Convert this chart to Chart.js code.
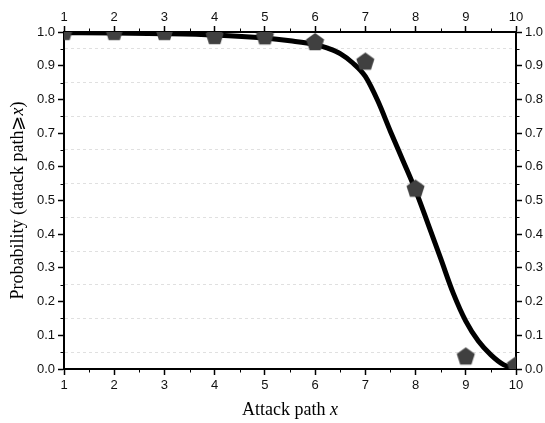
<!DOCTYPE html>
<html lang="en">
<head>
<meta charset="UTF-8">
<title>Attack path probability</title>
<script src="https://cdn.jsdelivr.net/npm/chart.js@4.4.0/dist/chart.umd.min.js"></script>
</head>
<body style="margin:0; background:#fff;">
<div style="position:relative; width:545px; height:423px;">
  <canvas id="pathChart"></canvas>
</div>
<script>
// observed probability that an attack path reaches length >= x
const pathLengths = [1, 2, 3, 4, 5, 6, 7, 8, 9, 10];
const observedProb = [0.999, 0.999, 0.999, 0.987, 0.986, 0.969, 0.911, 0.534, 0.036, 0.010];

// fitted curve, sampled
const fitX = [1, 2, 3, 4, 5, 5.5, 6, 6.25, 6.5, 6.75, 7, 7.25, 7.5, 7.75, 8, 8.25, 8.5, 8.75, 9, 9.25, 9.5, 9.75, 10];
const fitY = [0.998, 0.997, 0.995, 0.991, 0.982, 0.974, 0.963, 0.952, 0.936, 0.908, 0.868, 0.795, 0.705, 0.618, 0.530, 0.430, 0.328, 0.225, 0.142, 0.083, 0.042, 0.013, 0.0];

const xTickLabels = ['1', '2', '3', '4', '5', '6', '7', '8', '9', '10'];
const yTickLabels = ['0.0', '0.1', '0.2', '0.3', '0.4', '0.5', '0.6', '0.7', '0.8', '0.9', '1.0'];

// pentagon marker
function pentagon(r, color) {
    const c = document.createElement('canvas');
    const s = Math.ceil(r * 2) + 2;
    c.width = s; c.height = s;
    const g = c.getContext('2d');
    g.fillStyle = color;
    g.beginPath();
    for (let i = 0; i < 5; i++) {
        const a = -Math.PI / 2 + i * 2 * Math.PI / 5;
        const px = s / 2 + r * Math.cos(a), py = s / 2 + r * Math.sin(a);
        if (i === 0) g.moveTo(px, py); else g.lineTo(px, py);
    }
    g.closePath();
    g.fill();
    return c;
}

const tickFont = { family: "'Liberation Sans', Arial, sans-serif", size: 13 };
const isMajorY = v => Math.round(v * 20) % 2 === 0;
const isMajorX = v => Math.round(v * 2) % 2 === 0;
const yLabel = v => isMajorY(v) ? yTickLabels[Math.round(v * 10)] : '';
const xLabel = v => isMajorX(v) ? xTickLabels[Math.round(v) - 1] : '';

function xAxis(pos, h, pad) {
    return {
        type: 'linear', position: pos, min: 1, max: 10,
        afterFit: s => { s.height = h; },
        border: { color: '#000', width: 2 },
        grid: {
            drawOnChartArea: false, tickLength: 6, tickWidth: 1.5,
            tickColor: c => isMajorX(c.tick.value) ? '#000' : 'rgba(0,0,0,0)'
        },
        ticks: {
            stepSize: 0.5, autoSkip: false, maxRotation: 0, padding: pad,
            color: '#111', font: tickFont, callback: xLabel
        }
    };
}

function yAxis(pos, w, onArea) {
    return {
        type: 'linear', position: pos, min: 0, max: 1,
        afterFit: s => { s.width = w; },
        border: { color: '#000', width: 2, dash: [3, 3] },
        grid: {
            drawOnChartArea: onArea, tickLength: 6, tickWidth: 1.5, lineWidth: 1,
            color: c => (c.tick && !isMajorY(c.tick.value)) ? '#e0e0e0' : 'rgba(0,0,0,0)',
            tickColor: c => isMajorY(c.tick.value) ? '#000' : 'rgba(0,0,0,0)'
        },
        ticks: {
            stepSize: 0.05, autoSkip: false, padding: 3,
            color: '#111', font: tickFont, callback: yLabel
        }
    };
}

// short minor ticks on all four sides
const minorTicks = {
    id: 'minorTicks',
    afterDraw(chart) {
        const ctx = chart.ctx, a = chart.chartArea, L = 3.5;
        ctx.save();
        ctx.strokeStyle = '#000';
        ctx.lineWidth = 1;
        ctx.beginPath();
        ['x', 'x2'].forEach(id => {
            const sc = chart.scales[id];
            sc.ticks.forEach(t => {
                if (isMajorX(t.value)) return;
                const p = Math.round(sc.getPixelForValue(t.value)) + 0.5;
                if (id === 'x') { ctx.moveTo(p, a.bottom); ctx.lineTo(p, a.bottom + L); }
                else { ctx.moveTo(p, a.top); ctx.lineTo(p, a.top - L); }
            });
        });
        ['y', 'y2'].forEach(id => {
            const sc = chart.scales[id];
            sc.ticks.forEach(t => {
                if (isMajorY(t.value)) return;
                const p = Math.round(sc.getPixelForValue(t.value)) + 0.5;
                if (id === 'y') { ctx.moveTo(a.left, p); ctx.lineTo(a.left - L, p); }
                else { ctx.moveTo(a.right, p); ctx.lineTo(a.right + L, p); }
            });
        });
        ctx.stroke();
        ctx.restore();
    }
};

// axis titles with italic x
const axisTitles = {
    id: 'axisTitles',
    afterDraw(chart) {
        const ctx = chart.ctx, a = chart.chartArea;
        const normal = "18px 'Liberation Serif', 'Times New Roman', 'DejaVu Serif', serif";
        const italic = "italic 18px 'Liberation Serif', 'Times New Roman', 'DejaVu Serif', serif";
        const drawParts = (parts, cx, cy) => {
            let total = 0;
            parts.forEach(p => { ctx.font = p[1]; total += ctx.measureText(p[0]).width; });
            let x = cx - total / 2;
            parts.forEach(p => {
                ctx.font = p[1];
                ctx.fillText(p[0], x, cy);
                x += ctx.measureText(p[0]).width;
            });
        };
        ctx.save();
        ctx.fillStyle = '#000';
        ctx.textBaseline = 'alphabetic';
        drawParts([['Attack path ', normal], ['x', italic]], (a.left + a.right) / 2, 415);
        ctx.translate(23, (a.top + a.bottom) / 2);
        ctx.rotate(-Math.PI / 2);
        drawParts([['Probability (attack path', normal], ['\u2A7E', normal], ['x', italic], [')', normal]], 0, 0);
        ctx.restore();
    }
};

new Chart(document.getElementById('pathChart'), {
    type: 'scatter',
    data: {
        datasets: [{
            label: 'Observed',
            data: pathLengths.map((x, i) => ({ x: x, y: observedProb[i] })),
            pointStyle: pentagon(9.5, '#404040'),
            pointRadius: 10,
            showLine: false,
            clip: 0
        }, {
            label: 'Fit',
            data: fitX.map((x, i) => ({ x: x, y: fitY[i] })),
            showLine: true,
            borderColor: '#000',
            borderWidth: 5,
            pointRadius: 0,
            cubicInterpolationMode: 'monotone',
            clip: 0
        }]
    },
    options: {
        responsive: true,
        maintainAspectRatio: false,
        animation: false,
        layout: { padding: 0 },
        plugins: { legend: { display: false }, tooltip: { enabled: false } },
        scales: {
            x: xAxis('bottom', 54, 3),
            x2: xAxis('top', 32, 1),
            y: yAxis('left', 64, true),
            y2: yAxis('right', 29, false)
        }
    },
    plugins: [minorTicks, axisTitles]
});
</script>
</body>
</html>
